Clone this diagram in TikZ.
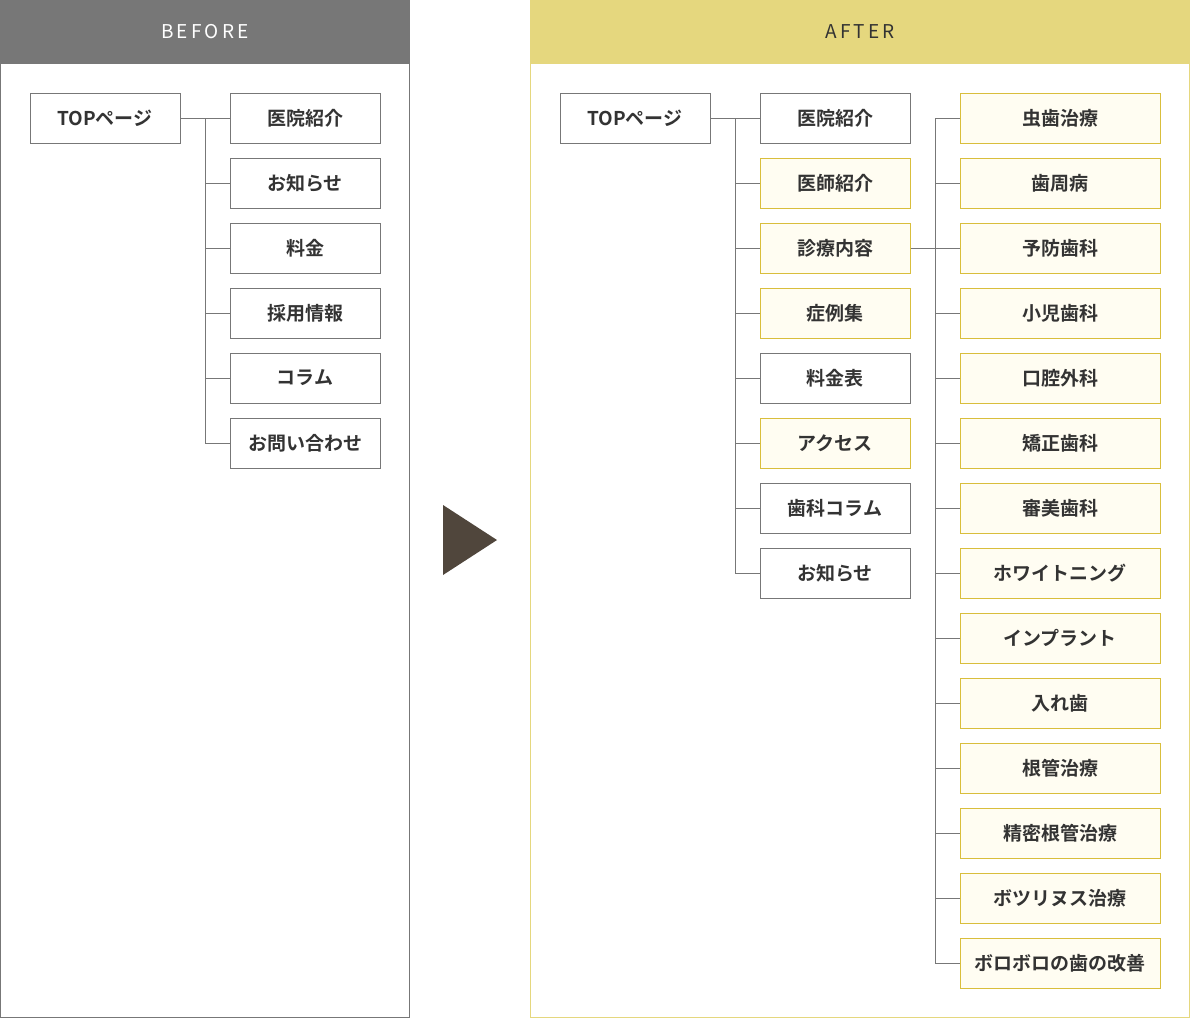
\documentclass[tikz,border=0pt]{standalone}
\usepackage{fontspec}
\setmainfont{Noto Sans CJK JP}[BoldFont={* Bold}]
\definecolor{hdrgray}{HTML}{777777}
\definecolor{hdryel}{HTML}{E5D77E}
\definecolor{yelbd}{HTML}{D9BE3C}
\definecolor{yelfill}{HTML}{FFFDF2}
\definecolor{txt}{HTML}{333333}
\definecolor{ln}{HTML}{777777}
\definecolor{lnl}{HTML}{BBBBBB}
\tikzset{
 wbox/.style={draw=ln,line width=1pt,fill=white,minimum height=50pt,inner sep=0pt,text=txt,font=\fontsize{19}{19}\selectfont\bfseries},
 ybox/.style={wbox,draw=yelbd,fill=yelfill},
 conn/.style={draw=ln,line width=1pt},
 connl/.style={draw=lnl,line width=1.5pt},
}
\begin{document}
\begin{tikzpicture}[x=1pt,y=-1pt]
\useasboundingbox (0,0) rectangle (1190,1018);
% panels
\draw[hdrgray,line width=1pt] (0.5,0.5) rectangle (409.5,1017.5);
\fill[hdrgray] (0,0) rectangle (410,64);
\node[text=white,font=\fontsize{19}{19}\selectfont] (hb) at (205,32) {B\,E\,F\,O\,R\,E};
\draw[hdryel,line width=1pt] (530.5,0.5) rectangle (1189.5,1017.5);
\fill[hdryel] (530,0) rectangle (1190,64);
\node[text=txt,font=\fontsize{19}{19}\selectfont] (ha) at (860,32) {A\,F\,T\,E\,R};
\fill[black!75!brown!60!gray] (443,505) -- (497,540) -- (443,575) -- cycle;
% BEFORE
\node[wbox,minimum width=150pt] (bt) at (105,118) {TOPページ};
\coordinate (bj) at (205,118);
\draw[conn] (bt.east) -- (bj);
\foreach \t [count=\i from 0] in {医院紹介,お知らせ,料金,採用情報,コラム,お問い合わせ}{
 \node[wbox,minimum width=150pt] (b\i) at (305,118+65*\i) {\t};
 \draw[conn] (b\i.west) -- (205,118+65*\i);
}
\draw[conn] (bj) -- (205,443);
% AFTER
\node[wbox,minimum width=150pt] (at) at (635,118) {TOPページ};
\coordinate (aj) at (735,118);
\draw[conn] (at.east) -- (aj);
\foreach \t/\s [count=\i from 0] in {医院紹介/wbox,医師紹介/ybox,診療内容/ybox,症例集/ybox,料金表/wbox,アクセス/ybox,歯科コラム/wbox,お知らせ/wbox}{
 \node[\s,minimum width=150pt] (a\i) at (835,118+65*\i) {\t};
 \draw[conn] (a\i.west) -- (735,118+65*\i);
}
\draw[conn] (aj) -- (735,573);
\foreach \t [count=\i from 0] in {虫歯治療,歯周病,予防歯科,小児歯科,口腔外科,矯正歯科,審美歯科,ホワイトニング,インプラント,入れ歯,根管治療,精密根管治療,ボツリヌス治療,ボロボロの歯の改善}{
 \node[ybox,minimum width=200pt] (c\i) at (1060,118+65*\i) {\t};
 \draw[conn] (c\i.west) -- (935,118+65*\i);
}
\draw[conn] (935,118) -- (935,963);
\draw[conn] (a2.east) -- (935,248);
\end{tikzpicture}
\end{document}
